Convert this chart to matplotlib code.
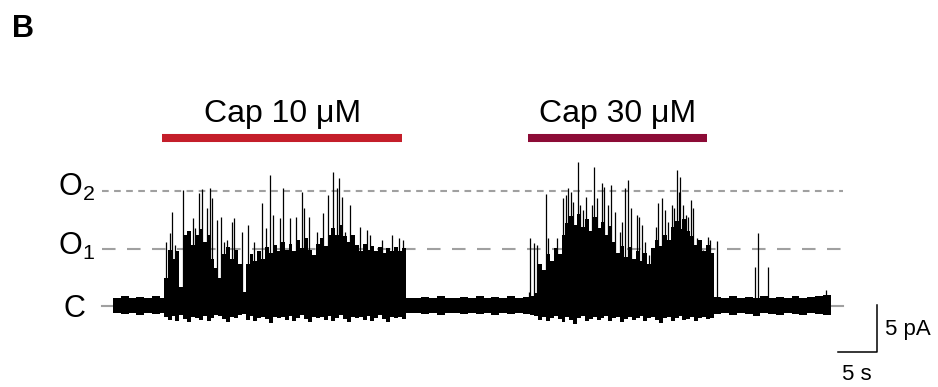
import numpy as np
import matplotlib
matplotlib.use("Agg")
import matplotlib.pyplot as plt

plt.rcParams['font.family'] = ['Liberation Sans', 'DejaVu Sans']
plt.rcParams['mathtext.default'] = 'regular'

# ______________________________________________________
# _____________ TRACE READINGS (s, pA) _________________
# closed level = 0 pA; envelope of the dense part of the record,
# read off every 0.5 s during activity and every 1 s at rest

base1_t = [0, 1, 2, 3, 4, 5, 6]
base1_top = [0.9, 1.1, 0.8, 1.0, 0.9, 1.1, 0.9]
base1_bot = [-0.8, -0.9, -0.7, -1.0, -0.8, -0.9, -0.8]

act1_t = [6.5, 7.0, 7.5, 8.0, 8.5, 9.0, 9.5, 10.0, 10.5, 11.0,
          11.5, 12.0, 12.5, 13.0, 13.5, 14.0, 14.5, 15.0, 15.5, 16.0,
          16.5, 17.0, 17.5, 18.0, 18.5, 19.0, 19.5, 20.0, 20.5, 21.0,
          21.5, 22.0, 22.5, 23.0, 23.5, 24.0, 24.5, 25.0, 25.5, 26.0,
          26.5, 27.0, 27.5, 28.0, 28.5, 29.0, 29.5, 30.0, 30.5, 31.0,
          31.5, 32.0, 32.5, 33.0, 33.5, 34.0, 34.5, 35.0, 35.5, 36.0,
          36.5, 37.0]
act1_top = [3.0, 6.0, 5.0, 5.8, 2.0, 7.5, 8.0, 6.5, 7.6, 8.2,
            6.8, 7.5, 5.0, 4.0, 3.0, 5.5, 6.3, 5.0, 6.0, 4.5,
            1.5, 4.5, 5.5, 4.8, 5.8, 5.0, 6.3, 5.6, 6.5, 5.8,
            6.8, 6.0, 6.6, 5.8, 7.0, 6.2, 7.2, 6.0, 5.4, 6.6,
            7.2, 6.4, 7.5, 8.3, 7.6, 8.6, 7.4, 6.8, 7.6, 6.5,
            5.9, 6.6, 6.0, 6.4, 5.8, 6.3, 5.6, 6.2, 5.8, 6.3,
            5.9, 6.2]
act1_bot = [-1.2, -1.5, -1.1, -1.6, -1.0, -1.4, -1.7, -1.2, -1.3, -1.5,
            -1.1, -1.6, -1.3, -1.0, -1.1, -1.4, -1.7, -1.2, -1.3, -1.0,
            -0.9, -1.5, -1.1, -1.6, -1.3, -1.2, -1.4, -1.8, -1.2, -1.3,
            -1.2, -1.5, -1.1, -1.6, -1.3, -1.0, -1.4, -1.7, -1.2, -1.3,
            -1.2, -1.5, -1.1, -1.6, -1.3, -1.0, -1.4, -1.7, -1.2, -1.3,
            -1.2, -1.5, -1.1, -1.6, -1.3, -1.0, -1.4, -1.7, -1.2, -1.3,
            -1.2, -1.4]

base2_t = [37.5, 38.5, 39.5, 40.5, 41.5, 42.5, 43.5, 44.5, 45.5, 46.5,
           47.5, 48.5, 49.5, 50.5, 51.5, 52.5]
base2_top = [0.9, 0.8, 1.0, 0.9, 1.1, 0.8, 0.9, 1.0, 0.8, 1.1,
             0.9, 1.0, 0.8, 1.1, 0.9, 1.0]
base2_bot = [-0.8, -0.7, -0.9, -0.8, -1.0, -0.7, -0.8, -0.9, -0.7, -0.9,
             -0.8, -1.0, -0.8, -0.9, -0.7, -0.9]

act2_t = [53.0, 53.5, 54.0, 54.5, 55.0, 55.5, 56.0, 56.5, 57.0, 57.5,
          58.0, 58.5, 59.0, 59.5, 60.0, 60.5, 61.0, 61.5, 62.0, 62.5,
          63.0, 63.5, 64.0, 64.5, 65.0, 65.5, 66.0, 66.5, 67.0, 67.5,
          68.0, 68.5, 69.0, 69.5, 70.0, 70.5, 71.0, 71.5, 72.0, 72.5,
          73.0, 73.5, 74.0, 74.5, 75.0, 75.5, 76.0, 76.5]
act2_top = [1.0, 1.1, 1.4, 4.5, 3.8, 5.5, 4.8, 6.2, 5.5, 7.5,
            8.8, 9.6, 8.6, 9.8, 8.4, 9.2, 8.0, 9.5, 8.3, 8.9,
            7.6, 8.5, 6.8, 5.6, 6.4, 5.2, 6.3, 5.0, 5.9, 4.8,
            5.6, 4.5, 6.2, 7.0, 6.4, 7.6, 7.0, 8.4, 9.0, 8.2,
            9.2, 8.0, 7.4, 6.5, 7.0, 5.8, 6.5, 5.6]
act2_bot = [-0.9, -1.0, -1.1, -1.5, -1.2, -1.6, -1.3, -1.1, -1.4, -1.7,
            -1.2, -1.5, -1.9, -1.3, -1.1, -1.6, -1.4, -1.2, -1.5, -1.3,
            -1.1, -1.6, -1.3, -1.2, -1.7, -1.4, -1.2, -1.5, -1.3, -1.1,
            -1.6, -1.3, -1.2, -1.5, -1.8, -1.3, -1.2, -1.6, -1.3, -1.1,
            -1.5, -1.4, -1.2, -1.6, -1.3, -1.2, -1.4, -1.3]

base3_t = [77.0, 78.0, 79.0, 80.0, 81.0, 82.0, 83.0, 84.0, 85.0, 86.0,
           87.0, 88.0, 89.0, 90.0, 91.0, 92.1]
base3_top = [1.0, 0.8, 1.1, 0.9, 1.0, 0.8, 1.1, 0.9, 1.0, 0.8,
             1.1, 0.9, 1.0, 1.1, 1.2, 1.2]
base3_bot = [-0.9, -0.8, -1.0, -0.8, -0.9, -1.1, -0.8, -0.9, -1.0, -0.8,
             -0.9, -1.0, -0.8, -0.9, -1.0, -1.0]

# single openings sticking out of the envelope
spike_t = [6.8, 7.3, 7.6, 7.9, 9.0, 9.2, 10.3, 10.5, 11.0, 11.4, 12.1, 12.4,
           12.7, 13.3, 13.8, 14.2, 14.6, 15.3, 15.5, 16.5, 17.3, 18.1, 19.1,
           19.6, 20.1, 20.5, 21.4, 21.8, 22.7, 23.5, 24.2, 24.5, 25.1, 26.2,
           26.9, 27.6, 28.2, 28.7, 29.0, 29.4, 29.7, 30.4, 30.8, 31.7, 32.6,
           32.9, 34.5, 35.8, 36.7, 37.2,
           53.3, 53.5, 54.0, 54.4, 55.5, 55.8, 56.9, 57.7, 58.1, 58.3, 58.7,
           59.0, 59.6, 59.9, 60.3, 60.6, 61.4, 61.7, 62.1, 62.7, 63.0, 63.5,
           63.8, 64.4, 65.0, 65.3, 65.6, 66.0, 66.4, 67.2, 67.4, 67.8, 68.2,
           68.7, 69.6, 69.9, 70.4, 70.8, 71.2, 71.7, 71.9, 72.3, 72.6, 72.7,
           73.1, 73.5, 73.7, 74.1, 74.4, 74.9, 75.4, 75.6, 76.3, 76.5, 77.4,
           82.3, 82.7, 84.0, 91.4]
spike_pk = [6.8, 7.8, 10.0, 6.5, 12.3, 7.0, 9.4, 8.3, 12.0, 12.4, 10.4, 12.6,
            11.5, 9.1, 9.5, 6.8, 7.0, 8.9, 9.4, 7.9, 8.6, 6.8, 11.0,
            8.3, 13.9, 9.7, 9.4, 12.6, 9.4, 9.5, 12.1, 10.4, 9.5, 7.9,
            9.9, 11.8, 14.3, 12.6, 13.6, 11.6, 7.9, 10.7, 7.6, 8.4, 8.1,
            7.6, 7.0, 7.6, 7.2, 7.0,
            1.5, 7.2, 6.7, 6.5, 11.9, 7.2, 7.2, 11.5, 11.8, 12.6, 12.1,
            11.1, 15.3, 10.7, 10.2, 11.6, 10.7, 14.8, 11.5, 13.1, 12.7, 10.7,
            12.9, 10.0, 7.9, 8.9, 12.6, 13.4, 10.4, 9.7, 9.5, 8.6, 6.8,
            5.4, 8.4, 11.0, 11.5, 10.2, 8.9, 10.7, 10.4, 14.5, 12.1, 13.7,
            10.7, 9.7, 9.5, 11.3, 10.4, 7.2, 6.2, 6.0, 7.3, 7.0, 6.9,
            4.1, 7.8, 4.1, 1.7]

levels = [0, 6.1, 12.2]
level_names = ["C", "O$_1$", "O$_2$"]

cap_names = ["Cap 10 μM", "Cap 30 μM"]
cap_on = [6.3, 53.2]
cap_off = [37.1, 76.2]
cap_colors = ["#c41e2a", "#8c0b36"]

scale_t = 5     # [s]
scale_i = 5     # [pA]

# ______________________________________________________
# ______________________ PLOTTING ______________________

env_t = base1_t + act1_t + base2_t + act2_t + base3_t
env_top = base1_top + act1_top + base2_top + act2_top + base3_top
env_bot = base1_bot + act1_bot + base2_bot + act2_bot + base3_bot

fig = plt.figure(figsize=(9.38, 3.87), dpi=100)
ax = fig.add_axes([0, 0, 1, 1])
ax.set_xlim(-14.49, 105.77)
ax.set_ylim(-8.62, 32.55)
ax.axis('off')

# level lines
ax.plot([-1.4, 93.6], [levels[0]]*2, color='#a0a0a0', lw=1.5, zorder=1)
ax.plot([-1.4, 93.6], [levels[1]]*2, color='#a0a0a0', lw=1.5, zorder=1,
        dashes=(6.5, 5.5))
ax.plot([-1.4, 93.6], [levels[2]]*2, color='#a0a0a0', lw=1.5, zorder=1,
        dashes=(3.2, 2.6))

ax.text(-3.6, levels[0] - 1.2, level_names[0], fontsize=22, ha='right', va='baseline')
ax.text(-2.3, levels[1] - 0.7, level_names[1], fontsize=22, ha='right', va='baseline')
ax.text(-2.3, levels[2] - 0.5, level_names[2], fontsize=22, ha='right', va='baseline')

# current record
ax.fill_between(env_t, env_bot, env_top, step='post', color='k', lw=0, zorder=2)
ax.vlines(spike_t, 0, spike_pk, color='k', lw=0.9, zorder=2)

# capsaicin application bars
for name, t0, t1, c in zip(cap_names, cap_on, cap_off, cap_colors):
    ax.plot([t0, t1], [17.9, 17.9], color=c, lw=5.8, solid_capstyle='butt')
    ax.text((t0 + t1)/2, 19.6, name, fontsize=23, ha='center', va='baseline')

# scale bar
x0, y0 = 92.9, -4.9
ax.plot([x0, x0 + scale_t, x0 + scale_t], [y0, y0, y0 + scale_i], color='k', lw=1.1)
ax.text(x0 + scale_t + 1.1, -3.1, f"{scale_i} pA", fontsize=16, ha='left', va='baseline')
ax.text(x0 + scale_t/2, -7.9, f"{scale_t} s", fontsize=16, ha='center', va='baseline')

fig.text(12/938, 1 - 37/387, "B", fontsize=22, fontweight='bold', va='baseline')

fig.savefig("out.png", dpi=100)
